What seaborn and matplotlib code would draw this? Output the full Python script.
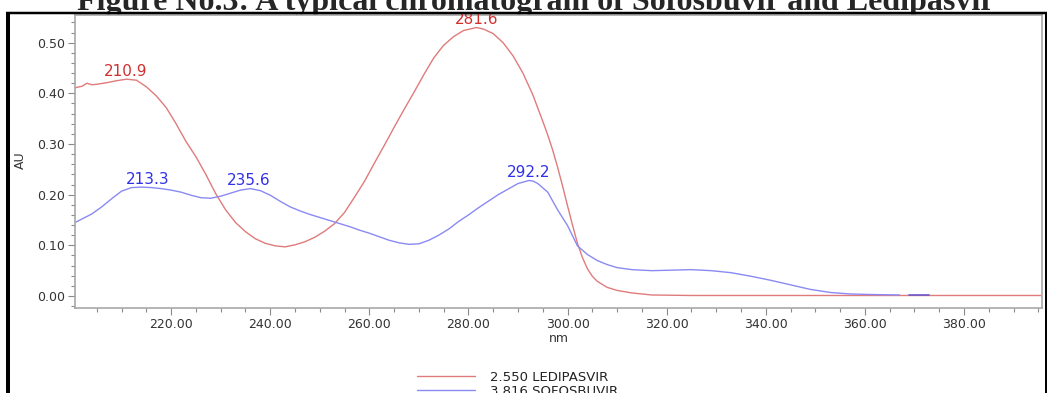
import numpy as np
import matplotlib.pyplot as plt
import seaborn as sns
from matplotlib.lines import Line2D
from matplotlib.ticker import MultipleLocator, FormatStrFormatter

# spectra (wavelength nm, absorbance AU)
ledipasvir_nm = [200.6, 202, 203, 204, 205, 207, 209, 211, 213, 215, 217, 219, 221, 223,
                 225, 227, 229, 231, 233, 235, 237, 239, 241, 243, 245, 247, 249, 251,
                 253, 255, 257, 259, 261, 263, 265, 267, 269, 271, 273, 275, 277, 279,
                 281.6, 283, 285, 287, 289, 291, 293, 295, 296, 297, 298, 299, 300, 301,
                 302, 303, 304, 305, 306, 308, 310, 313, 317, 325, 395.5]
ledipasvir_au = [0.411, 0.414, 0.420, 0.417, 0.418, 0.421, 0.425, 0.428, 0.426, 0.413,
                 0.395, 0.372, 0.340, 0.305, 0.275, 0.240, 0.202, 0.170, 0.145, 0.127,
                 0.113, 0.104, 0.099, 0.097, 0.101, 0.107, 0.116, 0.128, 0.143, 0.165,
                 0.195, 0.226, 0.262, 0.297, 0.333, 0.368, 0.402, 0.437, 0.470, 0.495,
                 0.512, 0.524, 0.530, 0.527, 0.518, 0.500, 0.474, 0.440, 0.397, 0.345,
                 0.318, 0.288, 0.254, 0.217, 0.178, 0.140, 0.104, 0.076, 0.054, 0.039,
                 0.029, 0.017, 0.011, 0.006, 0.002, 0.001, 0.001]

sofosbuvir_nm = [200.6, 202, 204, 206, 208, 210, 212, 214, 216, 218, 220, 222, 224, 226,
                 228, 230, 232, 234, 236, 238, 240, 242, 244, 246, 248, 250, 252, 254,
                 256, 258, 260, 262, 264, 266, 268, 270, 272, 274, 276, 278, 280, 282,
                 284, 286, 288, 290, 292.2, 293, 294, 296, 298, 300, 302, 304, 306, 308,
                 310, 313, 317, 321, 325, 329, 333, 337, 341, 345, 349, 353, 357, 361, 367]
sofosbuvir_au = [0.145, 0.152, 0.162, 0.176, 0.192, 0.207, 0.214, 0.215, 0.214, 0.212,
                 0.209, 0.205, 0.199, 0.194, 0.193, 0.197, 0.203, 0.209, 0.212, 0.208,
                 0.199, 0.187, 0.176, 0.168, 0.161, 0.155, 0.149, 0.143, 0.137, 0.130,
                 0.124, 0.117, 0.110, 0.105, 0.102, 0.103, 0.110, 0.120, 0.132, 0.147,
                 0.160, 0.174, 0.187, 0.200, 0.211, 0.222, 0.228, 0.227, 0.222, 0.205,
                 0.170, 0.139, 0.099, 0.082, 0.070, 0.062, 0.056, 0.052, 0.050, 0.051,
                 0.052, 0.050, 0.046, 0.039, 0.031, 0.022, 0.013, 0.007, 0.004, 0.003,
                 0.002]
sofosbuvir_tail_nm = [369, 373]
sofosbuvir_tail_au = [0.002, 0.002]

ledipasvir_peaks = [210.9, 281.6]
sofosbuvir_peaks = [213.3, 235.6, 292.2]
legend_labels = ['2.550 LEDIPASVIR', '3.816 SOFOSBUVIR']
title = 'Figure No.3: A typical chromatogram of Sofosbuvir and Ledipasvir'

red_line, blue_line = '#e07b7b', '#8a8af2'
red_text, blue_text = '#d22f2f', '#3030ea'
W, H = 1047, 393

sns.set_style('white')
plt.rcParams['font.family'] = ['DejaVu Sans']

fig = plt.figure(figsize=(W / 100, H / 100), dpi=100)
ax = fig.add_axes([75 / W, 1 - 308 / H, (1042 - 75) / W, (308 - 15) / H])

sns.lineplot(x=ledipasvir_nm, y=ledipasvir_au, ax=ax, color=red_line, lw=1.0,
             estimator=None, sort=False)
sns.lineplot(x=sofosbuvir_nm, y=sofosbuvir_au, ax=ax, color=blue_line, lw=1.0,
             estimator=None, sort=False)
sns.lineplot(x=sofosbuvir_tail_nm, y=sofosbuvir_tail_au, ax=ax, color='#6a5acd', lw=1.2,
             estimator=None, sort=False)

ax.set_xlim(200.6, 395.75)
ax.set_ylim(-0.0237, 0.5547)

# peak wavelength labels
nudge = {213.3: 7}
for peaks, xs, ys, col in [(ledipasvir_peaks, ledipasvir_nm, ledipasvir_au, red_text),
                           (sofosbuvir_peaks, sofosbuvir_nm, sofosbuvir_au, blue_text)]:
    for p in peaks:
        ax.annotate(f'{p:.1f}', xy=(p, np.interp(p, xs, ys)), xytext=(nudge.get(p, 0), 2.5),
                    textcoords='offset points', ha='center', va='baseline',
                    color=col, fontsize=11)

ax.xaxis.set_major_locator(MultipleLocator(20))
ax.xaxis.set_minor_locator(MultipleLocator(5))
ax.xaxis.set_major_formatter(FormatStrFormatter('%.2f'))
ax.yaxis.set_major_locator(MultipleLocator(0.1))
ax.yaxis.set_minor_locator(MultipleLocator(0.02))
ax.yaxis.set_major_formatter(FormatStrFormatter('%.2f'))
ax.tick_params(which='both', bottom=True, left=True, color='#8a8a8a', width=0.8,
               labelsize=9, labelcolor='#333333', pad=2)
ax.tick_params(which='major', length=5)
ax.tick_params(which='minor', length=3)
for s in ax.spines.values():
    s.set_color('#a8a8a8')
    s.set_linewidth(1.2)

ax.set_xlabel('nm', fontsize=9, color='#333333', va='center')
ax.xaxis.set_label_coords(0.5, (308 - 338) / 293)
ax.set_ylabel('AU', fontsize=9, color='#333333', va='center')
ax.yaxis.set_label_coords((20 - 75) / 967, (308 - 160) / 293)

handles = [Line2D([], [], color=red_line, lw=1.0), Line2D([], [], color=blue_line, lw=1.0)]
fig.legend(handles, legend_labels, loc='upper left', bbox_to_anchor=(417 / W, 1 - 371 / H),
           frameon=False, borderpad=0, borderaxespad=0, handlelength=4.4,
           handletextpad=1.1, labelspacing=0.05, fontsize=9.5, labelcolor='#222222')

# page frame and cropped caption (caption sits behind the frame and the plot)
fig.text(536 / W, 1 - 10 / H, title, ha='center', va='baseline', fontsize=23,
         fontweight='bold', family='Liberation Serif', zorder=-1)
frame = dict(color='black', transform=fig.transFigure, solid_capstyle='butt', zorder=10)
fig.add_artist(Line2D([8 / W, 8 / W], [0, 1 - 12 / H], lw=4 * 0.72, **frame))
fig.add_artist(Line2D([6 / W, 1], [1 - 13 / H, 1 - 13 / H], lw=2.5 * 0.72, **frame))
fig.add_artist(Line2D([1045.5 / W, 1045.5 / W], [0, 1 - 12 / H], lw=3 * 0.72, **frame))

fig.savefig('out.png', dpi=100)
